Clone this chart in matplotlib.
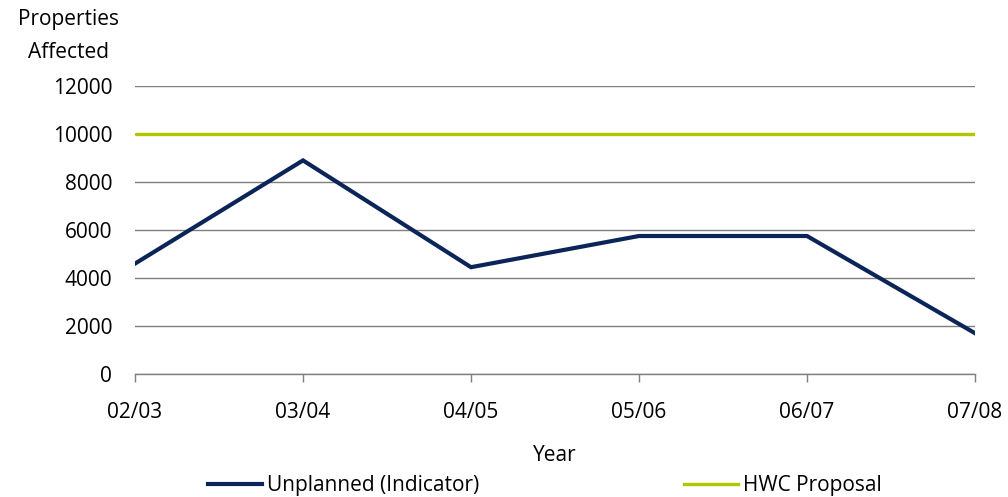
import matplotlib
matplotlib.use("Agg")
import matplotlib.pyplot as plt
from matplotlib.lines import Line2D

years = ["02/03", "03/04", "04/05", "05/06", "06/07", "07/08"]
unplanned = [4600, 8900, 4450, 5750, 5750, 1700]
hwc_proposal = [10000, 10000, 10000, 10000, 10000, 10000]
y_ticks = [0, 2000, 4000, 6000, 8000, 10000, 12000]

navy = "#0B2558"
lime = "#B3C500"
grid_grey = "#7F7F7F"

plt.rcParams["font.family"] = ["Open Sans", "DejaVu Sans"]
plt.rcParams["font.size"] = 15

fig = plt.figure(figsize=(10.08, 4.97), dpi=100)
ax = fig.add_axes([135 / 1008, 1 - 374 / 497, 840 / 1008, 288 / 497])

x = list(range(len(years)))
ax.plot(x, hwc_proposal, color=lime, lw=2.4, solid_capstyle="butt", zorder=3)
ax.plot(x, unplanned, color=navy, lw=3.0, solid_joinstyle="miter", zorder=4)

ax.set_xlim(0, len(years) - 1)
ax.set_ylim(0, 12000)
ax.set_yticks(y_ticks)
ax.set_yticklabels([str(v) for v in y_ticks])
ax.set_xticks(x)
ax.set_xticklabels(years)

ax.grid(axis="y", color=grid_grey, lw=1.0)
ax.set_axisbelow(True)
for side in ("left", "right", "top"):
    ax.spines[side].set_visible(False)
ax.spines["bottom"].set_color(grid_grey)
ax.spines["bottom"].set_linewidth(1.0)

ax.tick_params(axis="y", length=0, pad=16.5, colors="black")
ax.tick_params(axis="x", length=6, width=1.0, color=grid_grey, pad=14, labelcolor="black")

ax.set_xlabel("Year", labelpad=16)
fig.text(68 / 1008, 1 - 20 / 497, "Properties", ha="center", va="center", fontsize=15)
fig.text(68 / 1008, 1 - 52 / 497, "Affected", ha="center", va="center", fontsize=15)

handles = [
    Line2D([], [], color=navy, lw=3.0),
    Line2D([], [], color=lime, lw=2.4),
]
fig.legend(handles, ["Unplanned (Indicator)", "HWC Proposal"],
           loc="center", bbox_to_anchor=(545 / 1008, 1 - 486 / 497),
           ncol=2, frameon=False, handlelength=2.6, handletextpad=0.25,
           columnspacing=9.8, borderaxespad=0, borderpad=0)

fig.savefig("out.png", dpi=100)
